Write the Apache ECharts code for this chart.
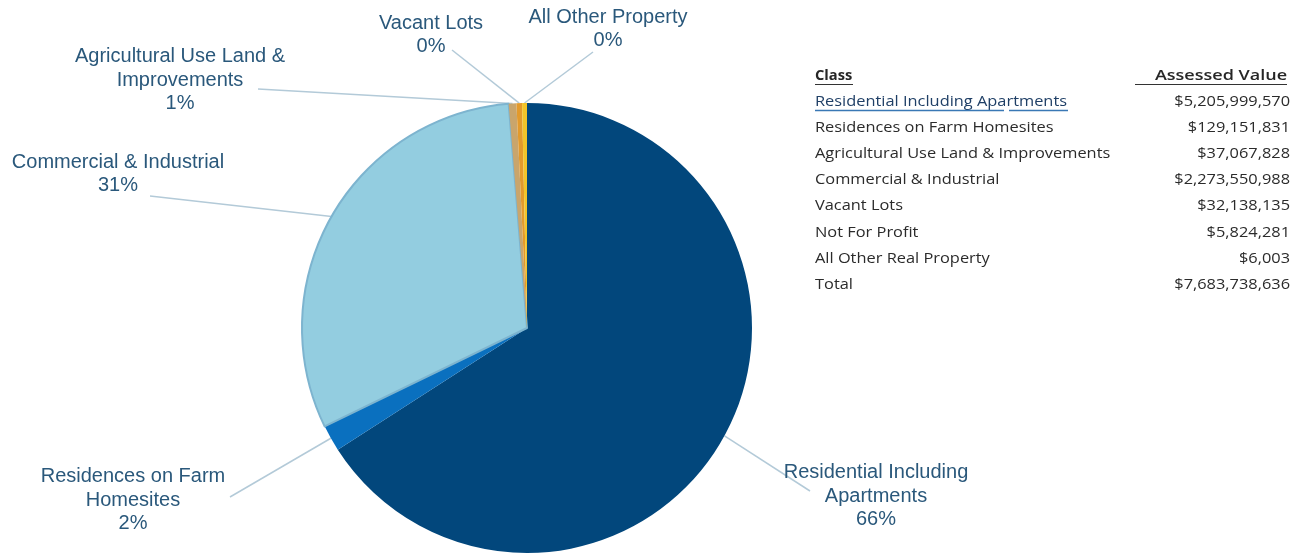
<!DOCTYPE html>
<html>
<head>
<meta charset="utf-8">
<script src="https://cdn.jsdelivr.net/npm/echarts@6/dist/echarts.min.js"></script>
<style>
	html, body { margin: 0; padding: 0; background: #fff; }
	#chart { width: 1302px; height: 556px; }
</style>
</head>
<body>
<div id="chart"></div>
<script>
// pie slices, clockwise from 12 o'clock
var categories = ['Residential Including Apartments', 'Residences on Farm Homesites', 'Commercial & Industrial',
	'Agricultural Use Land & Improvements', 'Vacant Lots', 'All Other Property'];
var labelNames = ['Residential Including\nApartments', 'Residences on Farm\nHomesites', 'Commercial & Industrial',
	'Agricultural Use Land &\nImprovements', 'Vacant Lots', 'All Other Property'];
var shares = [65.9, 1.9, 30.9, 0.55, 0.4, 0.35];
var sliceColors = ['#02477c', '#0a70bf', '#93cde0', '#c9a56c', '#e39a2c', '#f2c42a'];

// table at the right
var tableClasses = ['Residential Including Apartments', 'Residences on Farm Homesites', 'Agricultural Use Land & Improvements',
	'Commercial & Industrial', 'Vacant Lots', 'Not For Profit', 'All Other Real Property', 'Total'];
var tableValues = ['$5,205,999,570', '$129,151,831', '$37,067,828', '$2,273,550,988', '$32,138,135',
	'$5,824,281', '$6,003', '$7,683,738,636'];

// label block centres and leader line ends
var labelPos = [[876, 496], [133, 500], [118, 174], [180, 80], [431, 35], [608, 29]];
var lineEnds = [[810, 491], [230, 497], [150, 196], [258, 89], [452, 50], [593, 52]];

function tableText(text, x, y, opts) {
	// the table type is wide and short, so stretch it sideways
	return {
		type: 'text', x: x, y: y, scaleX: opts.scaleX || 1.17,
		style: { text: text, x: 0, y: 0, fill: opts.fill || '#2b2b2b', font: opts.font,
			align: opts.align || 'left', verticalAlign: 'middle' }
	};
}

function initChart(chartId) {
	var dom = document.getElementById(chartId);
	var myChart = echarts.init(dom);

	var pieData = categories.map(function(name, i) {
		var item = { name: name, value: shares[i], itemStyle: { color: sliceColors[i] } };
		if (i === 2) {
			item.itemStyle.borderColor = '#7db4cf';
			item.itemStyle.borderWidth = 2;
		}
		return item;
	});

	var tableFont = '14px "Open Sans"';
	var rowTop = 76, rowStep = 26.1;
	var graphics = [];
	graphics.push(tableText('Class', 815, rowTop, { font: 'bold ' + tableFont, fill: '#262626', scaleX: 1.05 }));
	graphics.push(tableText('Assessed Value', 1287, rowTop, { font: '600 15px "Open Sans"', fill: '#262626', align: 'right', scaleX: 1.2 }));
	graphics.push({ type: 'line', shape: { x1: 815, y1: 84.5, x2: 853, y2: 84.5 }, style: { stroke: '#333', lineWidth: 1 } });
	graphics.push({ type: 'line', shape: { x1: 1135, y1: 84.5, x2: 1287, y2: 84.5 }, style: { stroke: '#333', lineWidth: 1 } });
	tableClasses.forEach(function(c, i) {
		var y = rowTop + rowStep * (i + 1);
		graphics.push(tableText(c, 815, y, { font: tableFont, fill: i === 0 ? '#1f3f66' : '#2b2b2b' }));
		graphics.push(tableText(tableValues[i], 1290, y, { font: tableFont, align: 'right' }));
	});
	// blue underline under the first class
	graphics.push({ type: 'line', shape: { x1: 815, y1: 110.5, x2: 1004, y2: 110.5 }, style: { stroke: '#3a78b5', lineWidth: 1.5 } });
	graphics.push({ type: 'line', shape: { x1: 1009, y1: 110.5, x2: 1068, y2: 110.5 }, style: { stroke: '#3a78b5', lineWidth: 1.5 } });

	var option = {
		animation: false,
		backgroundColor: '#fff',
		graphic: graphics,
		series: [{
			type: 'pie',
			center: [527, 328],
			radius: 225,
			startAngle: 90,
			clockwise: true,
			avoidLabelOverlap: false,
			percentPrecision: 0,
			data: pieData,
			label: {
				show: true,
				position: 'outside',
				color: '#2a587b',
				fontFamily: 'Liberation Sans',
				fontSize: 20,
				lineHeight: 23.5,
				align: 'center',
				formatter: function(p) {
					return labelNames[p.dataIndex] + '\n' + p.percent + '%';
				}
			},
			labelLine: {
				show: true,
				lineStyle: { color: '#b3cad8', width: 1.5 }
			},
			labelLayout: function(params) {
				var i = params.dataIndex;
				var start = params.labelLinePoints ? params.labelLinePoints[0] : lineEnds[i];
				return {
					x: labelPos[i][0],
					y: labelPos[i][1],
					align: 'center',
					verticalAlign: 'middle',
					labelLinePoints: [start, lineEnds[i], lineEnds[i]]
				};
			},
			emphasis: { disabled: true }
		}]
	};

	if(option && typeof option === "object") {
		myChart.setOption(option, true);
	}
}

onload = function() {
	initChart('chart');
}
</script>
</body>
</html>
